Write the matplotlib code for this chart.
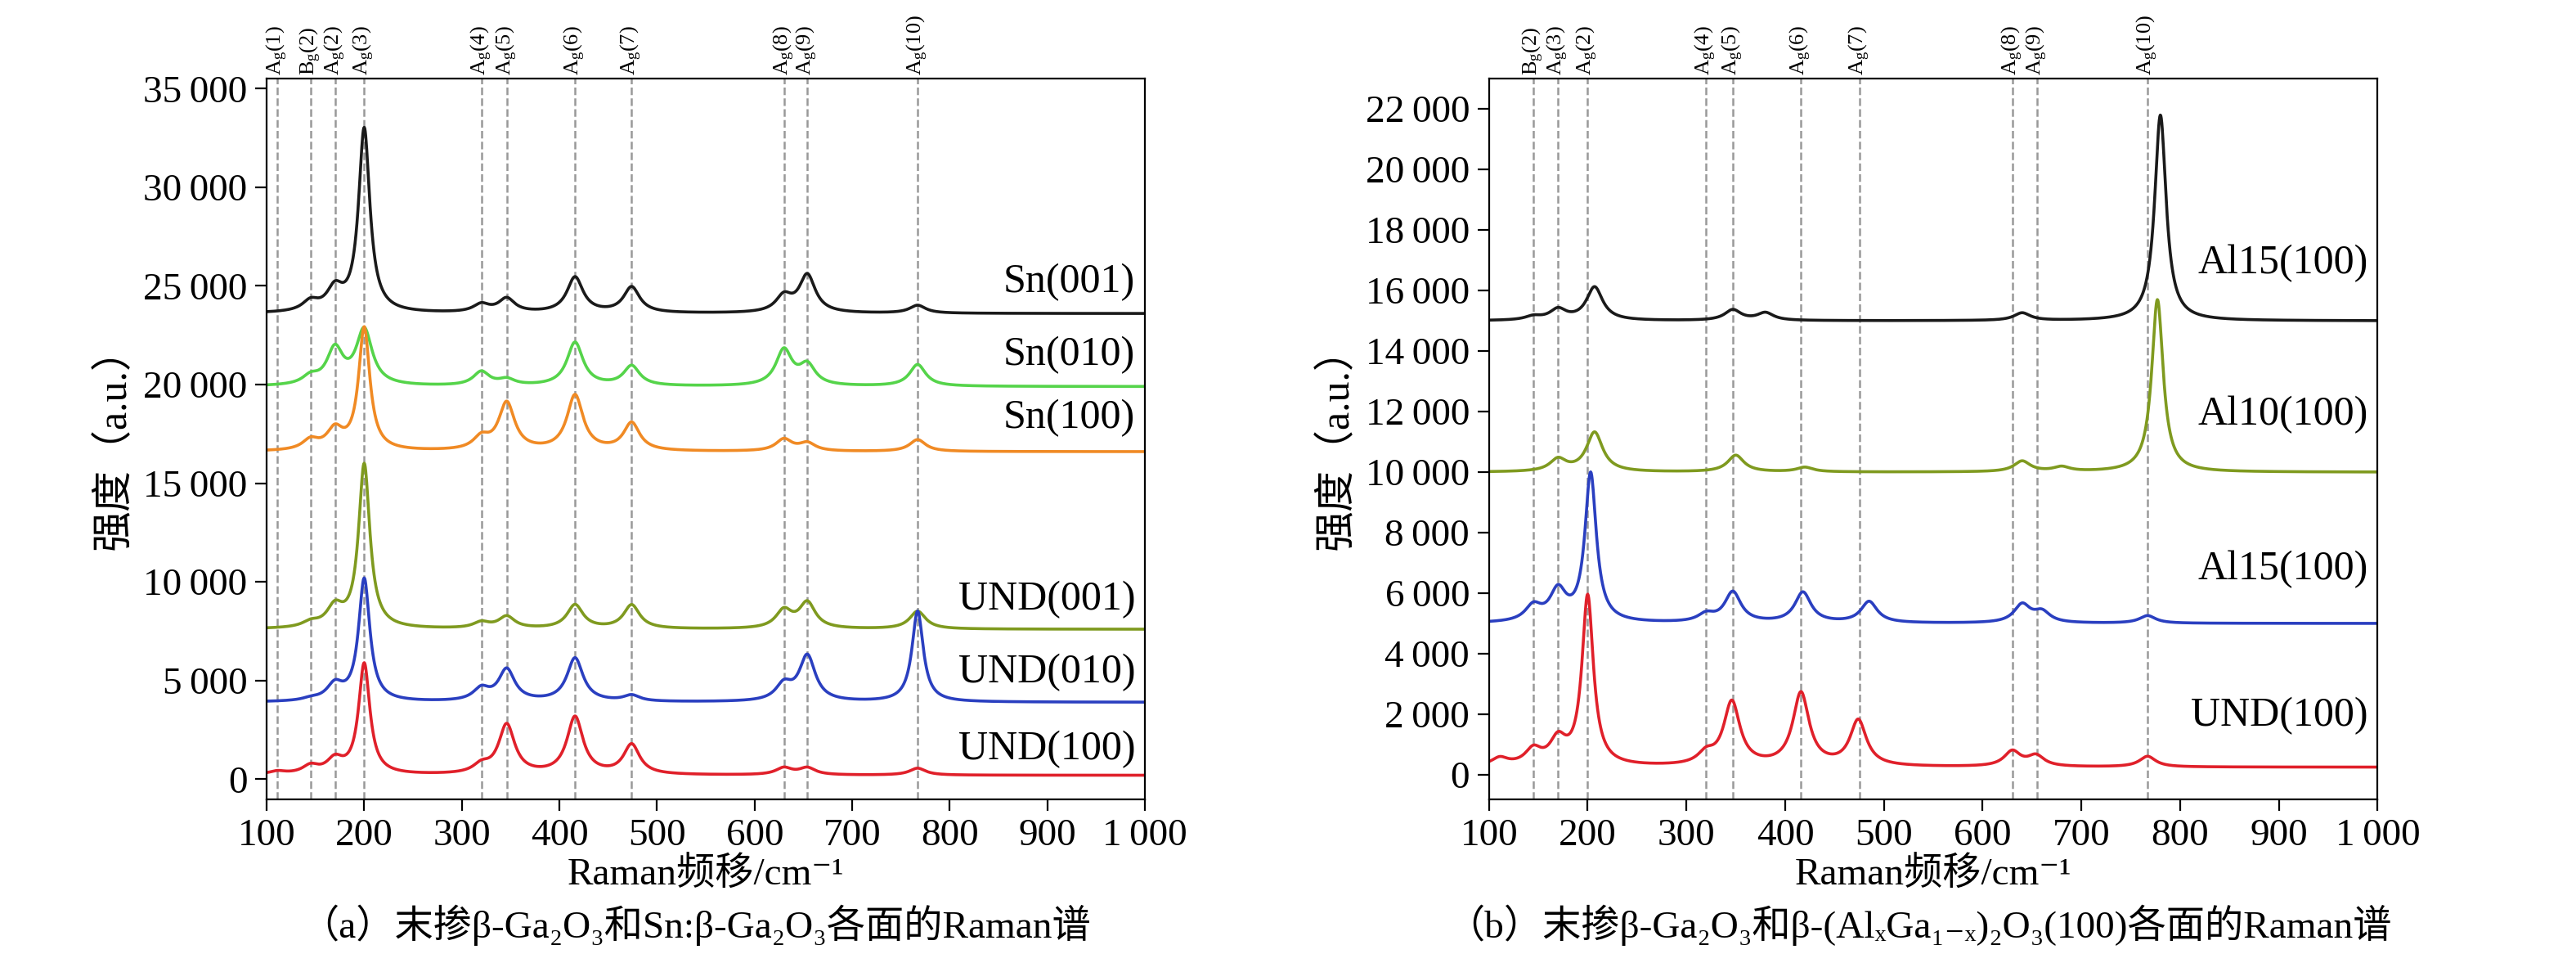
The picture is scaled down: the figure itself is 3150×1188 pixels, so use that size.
import numpy as np
import matplotlib.pyplot as plt
from matplotlib.ticker import FuncFormatter

plt.rcParams['font.family'] = ['Liberation Serif', 'Noto Sans CJK SC', 'DejaVu Serif']
plt.rcParams['mathtext.fontset'] = 'custom'
plt.rcParams['mathtext.rm'] = 'Liberation Serif'
plt.rcParams['mathtext.it'] = 'Liberation Serif:italic'

# 模式位置
modes_a = [111, 145, 170, 200, 320, 346, 416, 474, 630, 654, 767]
labels_a = ['A(1)', 'B(2)', 'A(2)', 'A(3)', 'A(4)', 'A(5)', 'A(6)', 'A(7)', 'A(8)', 'A(9)', 'A(10)']
modes_b = [145, 170, 200, 320, 347, 416, 475, 630, 655, 767]
labels_b = ['B(2)', 'A(3)', 'A(2)', 'A(4)', 'A(5)', 'A(6)', 'A(7)', 'A(8)', 'A(9)', 'A(10)']

# 各谱: 基线, 峰位, 峰高
names_a = ['Sn(001)', 'Sn(010)', 'Sn(100)', 'UND(001)', 'UND(010)', 'UND(100)']
colors_a = ['#1a1a1a', '#55d44a', '#f08a24', '#7f9a1f', '#2a3fc0', '#e0202a']
base_a = [23600, 19900, 16600, 7600, 3900, 200]
pos_a = [
    [145, 170, 200, 320, 346, 416, 474, 630, 654, 767],
    [145, 170, 200, 320, 346, 416, 474, 630, 654, 767],
    [145, 170, 200, 320, 346, 416, 474, 630, 654, 767],
    [145, 170, 200, 320, 346, 416, 474, 630, 654, 767],
    [145, 170, 200, 320, 346, 416, 474, 630, 654, 767],
    [111, 145, 170, 200, 320, 346, 416, 474, 630, 654, 767],
]
amp_a = [
    [500, 1100, 9300, 400, 700, 1800, 1300, 800, 1900, 400],
    [400, 1800, 2800, 700, 300, 2200, 1000, 1800, 1000, 1100],
    [500, 1000, 6200, 600, 2400, 2800, 1400, 600, 400, 600],
    [250, 1000, 8300, 300, 600, 1200, 1200, 900, 1300, 900],
    [100, 800, 6200, 600, 1600, 2200, 300, 800, 2300, 4600],
    [150, 400, 700, 5600, 400, 2500, 2900, 1500, 350, 350, 350],
]
label_y_a = [25200, 21500, 18300, 9100, 5400, 1500]

names_b = ['Al15(100)', 'Al10(100)', 'Al15(100)', 'UND(100)']
colors_b = ['#1a1a1a', '#7f9a1f', '#2a3fc0', '#e0202a']
base_b = [15000, 10000, 5000, 250]
pos_b = [
    [145, 170, 207, 347, 380, 640, 780],
    [170, 207, 350, 420, 640, 680, 777],
    [145, 170, 203, 320, 347, 418, 485, 640, 660, 767],
    [111, 145, 170, 200, 320, 346, 416, 474, 630, 654, 767],
]
amp_b = [
    [120, 350, 1100, 350, 250, 250, 6800],
    [400, 1300, 550, 150, 350, 150, 5700],
    [500, 1000, 4900, 250, 1000, 1000, 700, 600, 350, 250],
    [250, 500, 800, 5600, 350, 2100, 2400, 1500, 500, 350, 350],
]
label_y_b = [16900, 11900, 6800, 1950]

x = np.linspace(100, 1000, 1800)


def spectrum(base, pos, amp):
    y = np.full_like(x, base, dtype=float)
    for p, a in zip(pos, amp):
        w = 7 if a > 4000 else 10
        y += a / (1 + ((x - p) / w) ** 2)
    return y


fmt = FuncFormatter(lambda v, _: f'{int(v):,}'.replace(',', '\u2009'))

fig = plt.figure(figsize=(15.75, 5.94), dpi=200)
ax1 = fig.add_axes([0.1035, 0.178, 0.341, 0.741])
ax2 = fig.add_axes([0.578, 0.178, 0.345, 0.741])


def draw(ax, names, colors, base, pos, amp, ly, modes, mlabels, ylim, yticks):
    for m in modes:
        ax.axvline(m, color='#999999', ls='--', lw=0.9, zorder=0)
    for n, c, b, p, a, yy in zip(names, colors, base, pos, amp, ly):
        ax.plot(x, spectrum(b, p, a), color=c, lw=1.3)
        ax.text(990, yy, n, ha='right', va='center', fontsize=18)
    for m, l in zip(modes, mlabels):
        s = l[0] + r'$_\mathregular{g}$' + l[1:]
        ax.text(m, 1.005, s, transform=ax.get_xaxis_transform(), rotation=90,
                ha='center', va='bottom', fontsize=9.5)
    ax.set_xlim(100, 1000)
    ax.set_ylim(*ylim)
    ax.set_yticks(yticks)
    ax.set_xticks(range(100, 1001, 100))
    ax.xaxis.set_major_formatter(fmt)
    ax.yaxis.set_major_formatter(fmt)
    ax.tick_params(labelsize=17, direction='out', length=5)
    ax.set_xlabel('Raman频移/cm⁻¹', fontsize=17, labelpad=2)
    ax.set_ylabel('强度（a.u.）', fontsize=18)


draw(ax1, names_a, colors_a, base_a, pos_a, amp_a, label_y_a, modes_a, labels_a,
     (-1000, 35500), range(0, 35001, 5000))
draw(ax2, names_b, colors_b, base_b, pos_b, amp_b, label_y_b, modes_b, labels_b,
     (-800, 23000), range(0, 22001, 2000))

fig.text(0.27, 0.035, '（a）末掺β-Ga₂O₃和Sn:β-Ga₂O₃各面的Raman谱',
         ha='center', fontsize=17)
fig.text(0.745, 0.035, '（b）末掺β-Ga₂O₃和β-(AlₓGa₁₋ₓ)₂O₃(100)各面的Raman谱',
         ha='center', fontsize=17)

fig.savefig('out.png', dpi=200)
